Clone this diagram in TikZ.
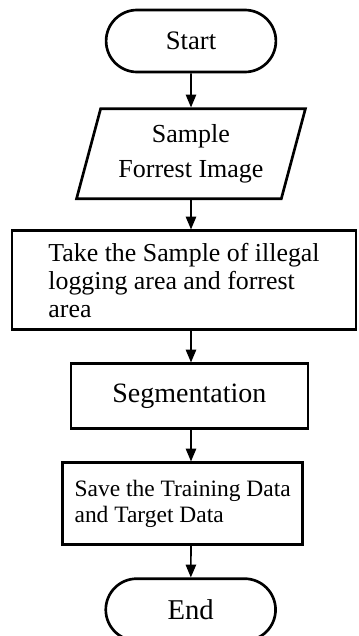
\documentclass[tikz,border=0pt]{standalone}
\usepackage{fontspec}
\setmainfont{Liberation Serif}
\usetikzlibrary{shapes.geometric, shapes.misc, arrows, positioning}

\begin{document}
\begin{tikzpicture}[x=0.75pt, y=-0.75pt, node distance=23.5pt, terminal/.style={
        rounded rectangle,
        draw=black,
        text=black,
        line width=2pt,
        minimum width=134pt,
        minimum height=46.5pt,
        font=\fontsize{20}{24}\selectfont
    }, io/.style={
        trapezium,
        trapezium left angle=73,
        trapezium right angle=107,
        trapezium stretches=true,
        draw=black,
        line width=2pt,
        minimum width=172pt,
        minimum height=67.5pt,
        align=center,
        font=\fontsize{19.5}{26}\selectfont
    }, process/.style={
        rectangle,
        draw=black,
        line width=2pt,
        align=left
    }, arrow/.style={
        line width=1.2pt, ->, >=triangle 45
    }]
    \useasboundingbox (0,0) rectangle (358,636);
    \node (start) [terminal] at (191,41) {Start};
    \node (sample) [io, below=25.5pt of start] {Sample\\Forrest Image\vphantom{y}};
    \node (take) [process, below=22pt of sample, xshift=-5.25pt, minimum width=258pt, minimum height=74.25pt, font=\fontsize{19.4}{21}\selectfont] {Take the Sample of illegal\\logging area and forrest\\area};
    \node (segment) [process, below=of take, xshift=4pt, minimum width=177.75pt, minimum height=48.75pt, font=\fontsize{21}{25}\selectfont] {Segmentation};
    \node (save) [process, below=of segment, xshift=-5pt, minimum width=180pt, minimum height=61.5pt, font=\fontsize{17.6}{19.5}\selectfont] {Save the Training Data\\and Target Data};
    \node (end) [terminal, below=of save, xshift=6pt, font=\fontsize{21.5}{25}\selectfont] {End};
    \draw [arrow] (start) -- (sample);
    \draw [arrow] (sample.south -| start) -- (take.north -| start);
    \draw [arrow] (take.south -| start) -- (segment.north -| start);
    \draw [arrow] (segment.south -| start) -- (save.north -| start);
    \draw [arrow] (save.south -| start) -- (end);

\end{tikzpicture}
\end{document}
